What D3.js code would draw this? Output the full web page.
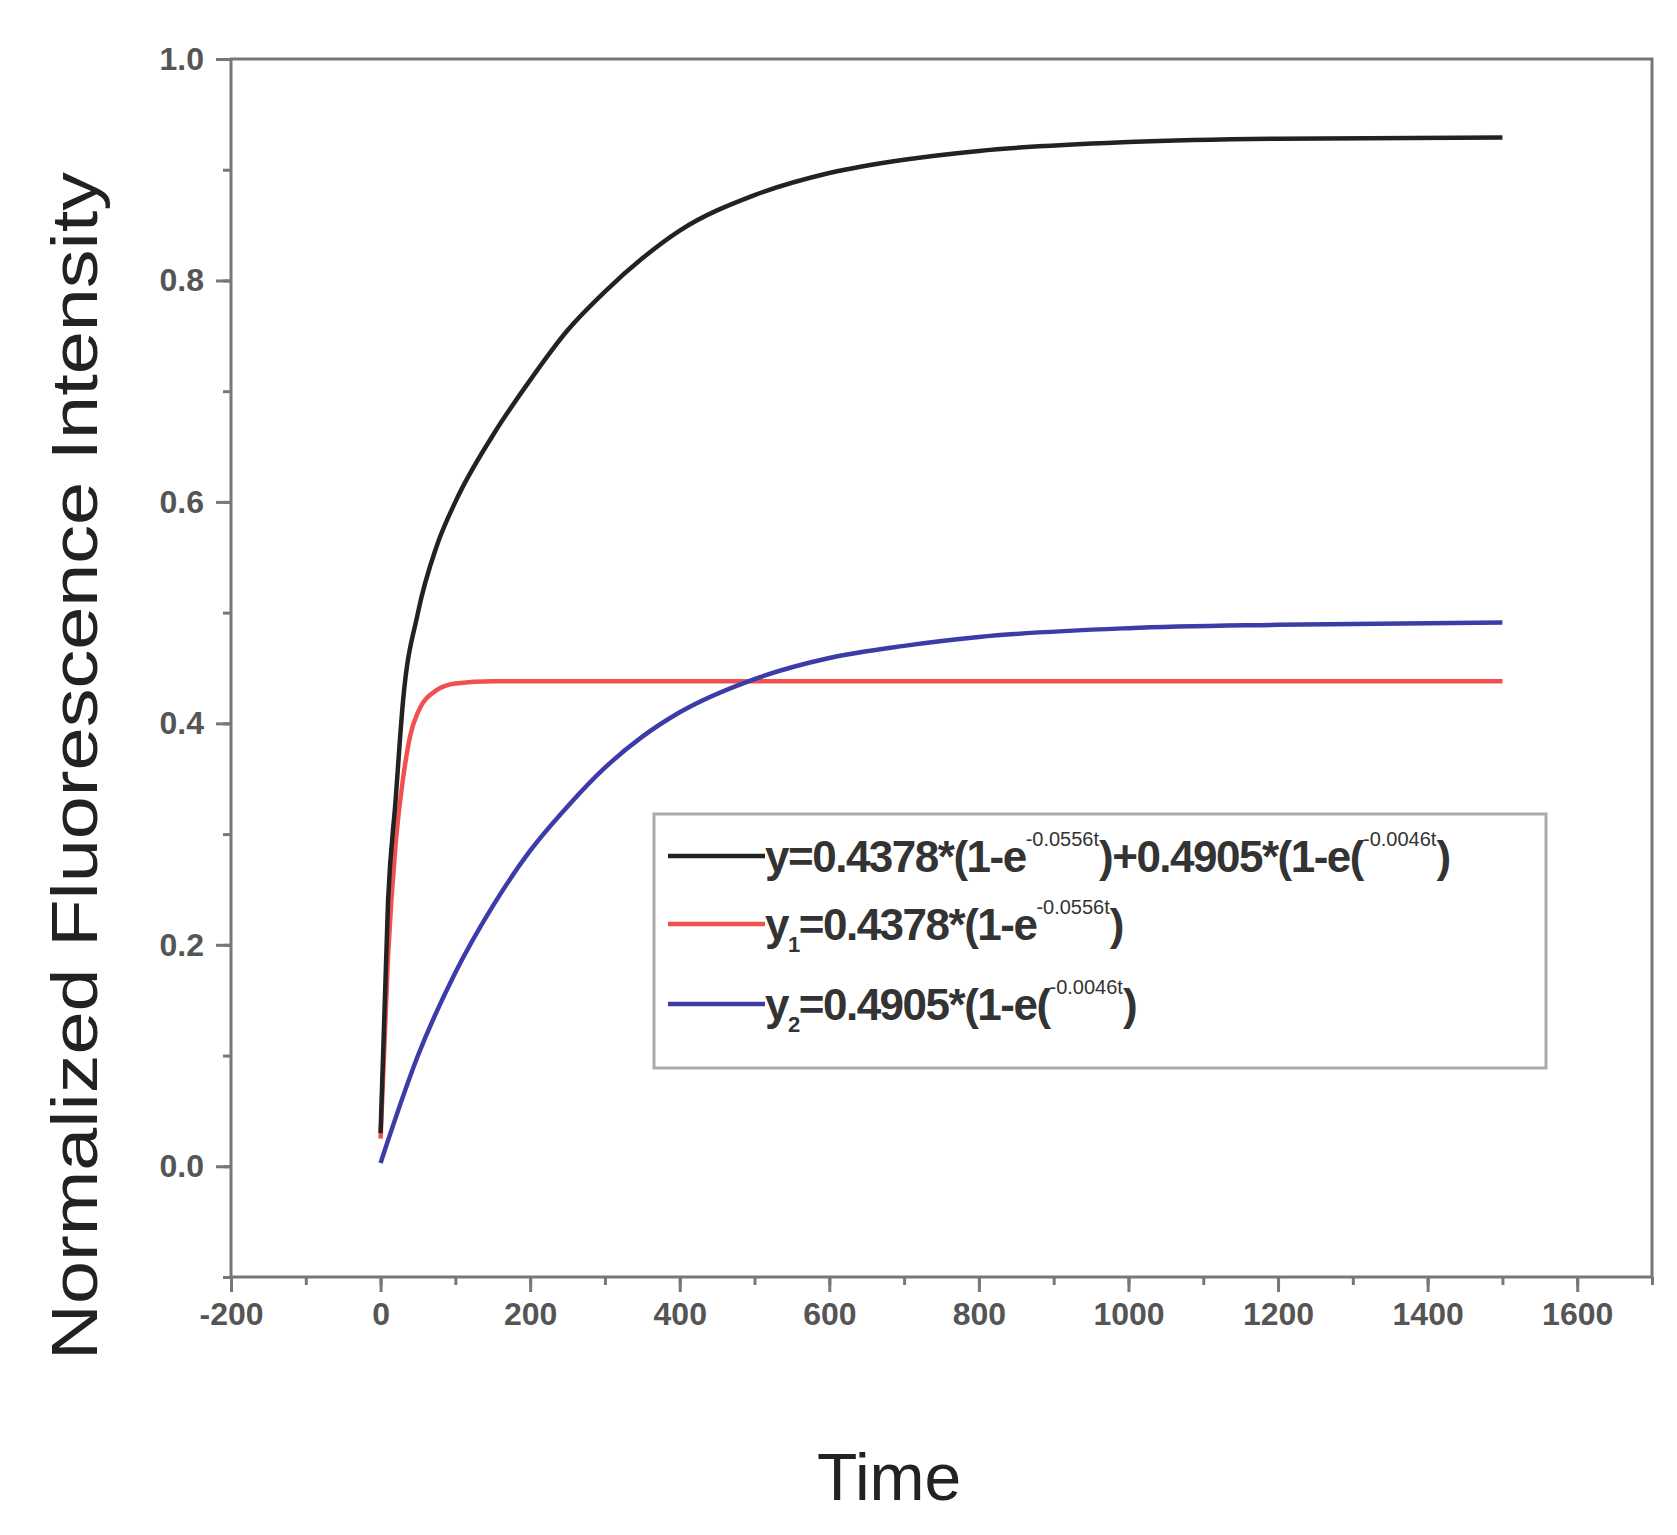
<!DOCTYPE html>
<html><head><meta charset="utf-8">
<script src="https://cdn.jsdelivr.net/npm/d3@7"></script>
<style>body{margin:0;background:#fff}</style>
</head><body>
<svg id="chart" width="1677" height="1535"></svg>
<script>
// values
const blackT = [0, 10, 20, 30, 50, 75, 100, 150, 200, 250, 300, 350, 400, 500, 600, 700, 800, 1000, 1200, 1500];
const blackY = [0.03, 0.24, 0.33, 0.42, 0.50, 0.56, 0.60, 0.66, 0.71, 0.755, 0.79, 0.82, 0.845, 0.877, 0.897, 0.909, 0.917, 0.925, 0.928, 0.929];
const redT = [0, 10, 20, 30, 40, 50, 75, 100, 150, 1500];
const redY = [0.025, 0.19, 0.29, 0.35, 0.39, 0.41, 0.43, 0.436, 0.438, 0.438];
const blueT = [0, 50, 100, 150, 200, 250, 300, 350, 400, 500, 600, 700, 800, 1000, 1200, 1500];
const blueY = [0.003, 0.10, 0.175, 0.235, 0.285, 0.325, 0.36, 0.388, 0.41, 0.44, 0.459, 0.47, 0.478, 0.486, 0.489, 0.491];
const xTicks = [-200, 0, 200, 400, 600, 800, 1000, 1200, 1400, 1600];
const yTicks = [0.0, 0.2, 0.4, 0.6, 0.8, 1.0];

const svg = d3.select('#chart');
const m = {left: 231, right: 1652, top: 59, bottom: 1277};
const x = d3.scaleLinear().domain([-200, 1700]).range([m.left, m.right]);
const y = d3.scaleLinear().domain([-0.1, 1.0]).range([m.bottom, m.top]);
const axisCol = '#777';

// frame
svg.append('rect').attr('x', m.left).attr('y', m.top)
    .attr('width', m.right - m.left).attr('height', m.bottom - m.top)
    .attr('fill', 'none').attr('stroke', axisCol).attr('stroke-width', 3);

const font = 'Liberation Sans, Arial, sans-serif';
const styleAxis = (g) => {
    g.select('.domain').remove();
    g.selectAll('line').attr('stroke', axisCol).attr('stroke-width', 3);
    g.selectAll('text').attr('font-family', font).attr('font-size', 32)
        .attr('fill', '#555').attr('font-weight', 'bold');
};

svg.append('g').attr('transform', `translate(0,${m.bottom})`)
    .call(d3.axisBottom(x).tickValues(d3.range(-200, 1701, 100)).tickSize(8).tickFormat(''))
    .call(styleAxis);
svg.append('g').attr('transform', `translate(0,${m.bottom})`)
    .call(d3.axisBottom(x).tickValues(xTicks).tickSize(15).tickPadding(10).tickFormat(d => String(d)))
    .call(styleAxis);
svg.append('g').attr('transform', `translate(${m.left},0)`)
    .call(d3.axisLeft(y).tickValues(d3.range(-0.1, 1.001, 0.1)).tickSize(8).tickFormat(''))
    .call(styleAxis);
svg.append('g').attr('transform', `translate(${m.left},0)`)
    .call(d3.axisLeft(y).tickValues(yTicks).tickSize(15).tickPadding(12).tickFormat(d3.format('.1f')))
    .call(styleAxis);

// titles
svg.append('text').attr('x', x(680)).attr('y', 1500).attr('text-anchor', 'middle')
    .attr('font-family', font).attr('font-size', 66).attr('fill', '#222').text('Time');
svg.append('text').attr('transform', `translate(97,${(172 + 1360) / 2}) rotate(-90)`)
    .attr('text-anchor', 'middle').attr('font-family', font).attr('font-size', 64)
    .attr('fill', '#222').attr('textLength', 1188).attr('lengthAdjust', 'spacingAndGlyphs')
    .text('Normalized Fluorescence Intensity');

// curves
const line = d3.line().x(d => x(d[0])).y(d => y(d[1])).curve(d3.curveMonotoneX);
const series = [
    {t: redT, v: redY, c: '#f25050'},
    {t: blueT, v: blueY, c: '#3c3ca8'},
    {t: blackT, v: blackY, c: '#222'},
];
series.forEach(s => {
    svg.append('path').datum(d3.zip(s.t, s.v)).attr('d', line)
        .attr('fill', 'none').attr('stroke', s.c).attr('stroke-width', 4.5);
});

// legend
const lg = svg.append('g');
lg.append('rect').attr('x', 654).attr('y', 814).attr('width', 892).attr('height', 254)
    .attr('fill', '#fff').attr('stroke', '#aaa').attr('stroke-width', 3);
const legendRows = [
    {c: '#222', y: 862, parts: [['y', ''], ['=0.4378*(1-e', ''], ['-0.0556t', 'sup'], [')+0.4905*(1-e(', ''], ['-0.0046t', 'sup'], [')', '']]},
    {c: '#f25050', y: 930, parts: [['y', ''], ['1', 'sub'], ['=0.4378*(1-e', ''], ['-0.0556t', 'sup'], [')', '']]},
    {c: '#3c3ca8', y: 1010, parts: [['y', ''], ['2', 'sub'], ['=0.4905*(1-e(', ''], ['-0.0046t', 'sup'], [')', '']]},
];
legendRows.forEach(r => {
    lg.append('line').attr('x1', 668).attr('x2', 765).attr('y1', r.y - 6).attr('y2', r.y - 6)
        .attr('stroke', r.c).attr('stroke-width', 4.5);
    const tx = lg.append('text').attr('x', 765).attr('y', r.y + 10).attr('font-family', font)
        .attr('font-size', 44).attr('fill', '#333').attr('font-weight', 'bold').attr('letter-spacing', -1.5);
    let prev = 0;
    r.parts.forEach(p => {
        const target = p[1] === 'sup' ? -26 : p[1] === 'sub' ? 12 : 0;
        const ts = tx.append('tspan').text(p[0]).attr('dy', target - prev);
        if (p[1] === 'sup') ts.attr('font-size', 20).attr('font-weight', 'normal').attr('letter-spacing', 0);
        else if (p[1] === 'sub') ts.attr('font-size', 22);
        prev = target;
    });
});
</script>
</body></html>
